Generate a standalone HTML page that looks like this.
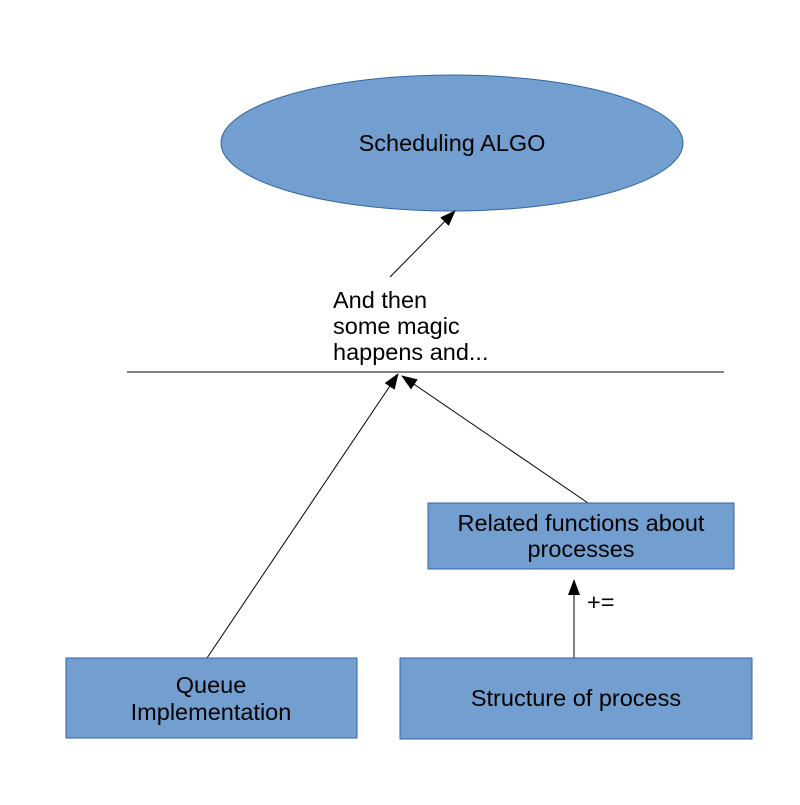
<!DOCTYPE html>
<html><head><style>body{margin:0;background:#fff}</style></head><body>
<svg width="800" height="800" xmlns="http://www.w3.org/2000/svg" font-family="Liberation Sans, sans-serif" font-size="23.5">
<defs><marker id="a" markerWidth="16" markerHeight="12" refX="15" refY="6" orient="auto" markerUnits="userSpaceOnUse"><path d="M0,0 L16,6 L0,12 z" fill="#000"/></marker></defs>
<ellipse cx="452" cy="143" rx="231" ry="68" fill="#729fcf" stroke="#3465a4"/>
<text x="452" y="151" text-anchor="middle">Scheduling ALGO</text>
<line x1="390" y1="277" x2="455" y2="211" stroke="#000" marker-end="url(#a)"/>
<text x="333" y="308">And then</text>
<text x="333" y="334">some magic</text>
<text x="333" y="360">happens and...</text>
<line x1="127" y1="372" x2="724" y2="372" stroke="#000"/>
<line x1="207" y1="658" x2="398" y2="374" stroke="#000" marker-end="url(#a)"/>
<line x1="588" y1="503" x2="402" y2="376" stroke="#000" marker-end="url(#a)"/>
<rect x="428" y="503" width="306" height="66" fill="#729fcf" stroke="#3465a4"/>
<text x="581" y="531" text-anchor="middle">Related functions about</text>
<text x="581" y="557" text-anchor="middle">processes</text>
<line x1="574" y1="658" x2="574" y2="580" stroke="#000" marker-end="url(#a)"/>
<text x="587" y="610">+=</text>
<rect x="66" y="658" width="291" height="80" fill="#729fcf" stroke="#3465a4"/>
<text x="211" y="693" text-anchor="middle">Queue</text>
<text x="211" y="720" text-anchor="middle">Implementation</text>
<rect x="400" y="658" width="352" height="81" fill="#729fcf" stroke="#3465a4"/>
<text x="576" y="706" text-anchor="middle">Structure of process</text>
</svg>
</body></html>
